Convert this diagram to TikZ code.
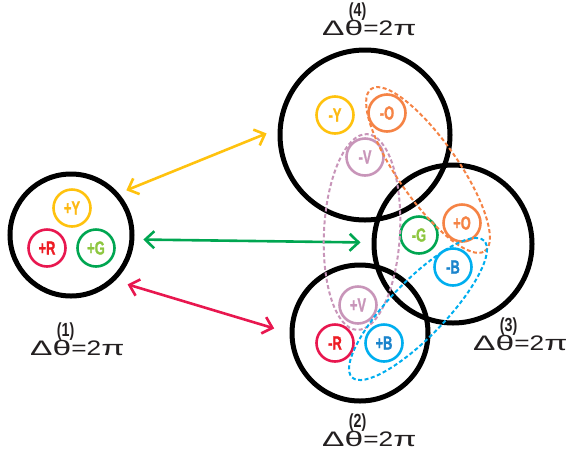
\documentclass[tikz,border=0pt]{standalone}
\usepackage{fontspec}
\setmainfont{Liberation Sans}
\newfontfamily\schwer[FakeBold=1.6]{Liberation Sans Bold}
\usetikzlibrary{arrows.meta}

\definecolor{dunkel}{HTML}{231F20}
\definecolor{gelb}{HTML}{FFC20E}
\definecolor{gelbtxt}{HTML}{FDB913}
\definecolor{rot}{HTML}{E8174F}
\definecolor{rottxt}{HTML}{ED1C24}
\definecolor{gruen}{HTML}{00A651}
\definecolor{gruentxt}{HTML}{8DC63F}
\definecolor{orange}{HTML}{F58345}
\definecolor{vio}{HTML}{C895B9}
\definecolor{blau}{HTML}{00AEEF}
\definecolor{blautxt}{HTML}{1B84CC}

% Delta theta mit hochgestelltem Index
\newcommand{\dth}[1]{\scalebox{1.6}[1]{Δθ}\makebox[0pt][r]{\raisebox{19pt}{\fontsize{19}{19}\selectfont\bfseries\scalebox{0.75}[1]{(#1)}}\hspace{-3pt}}\scalebox{1.25}[1]{=2}\scalebox{1.6}[1]{π}}

\begin{document}
\begin{tikzpicture}[x=1pt, y=-1pt,
	gross/.style={circle, draw=black, line width=5pt, inner sep=0pt},
	klein/.style={circle, line width=2.6pt, minimum size=37pt, inner sep=0pt, font=\fontsize{19}{19}\selectfont\schwer},
	pfeil/.style={{Straight Barb[length=9pt,width=17pt]}-{Straight Barb[length=9pt,width=17pt]}, line width=2.6pt},
	gruppe/.style={dash pattern=on 4pt off 2.5pt, line width=2pt},
	winkel/.style={text=dunkel, font=\fontsize{21}{21}\selectfont, anchor=base west, inner sep=0pt}]
	\useasboundingbox (0,0) rectangle (567,456);
	% grosse Kreise
	\node[gross, minimum size=122pt] (k1) at (71,235) {};
	\node[gross, minimum size=170pt] (k4) at (365,135) {};
	\node[gross, minimum size=158pt] (k3) at (453,244) {};
	\node[gross, minimum size=136pt] (k2) at (360,333) {};
	% kleine Kreise
	\foreach \n/\x/\y/\rc/\tc/\txt in {py/72/208/gelb/gelbtxt/+Y, pr/47/248/rot/rottxt/+R, pg/96/248/gruen/gruentxt/+G,
		my/335/115/gelb/gelbtxt/-Y, mo/387/113/orange/orange/-O, mv/365/157/vio/vio/-V,
		mg/419/235/gruen/gruentxt/-G, po/462/223/orange/orange/+O, mb/453/267/blau/blautxt/-B,
		pv/358/305/vio/vio/+V, mr/335/343/rot/rottxt/-R, pb/384/343/blau/blautxt/+B}
		\node[klein, draw=\rc, text=\tc] (\n) at (\x,\y) {\scalebox{0.68}[1]{\txt}};
	% Pfeile
	\draw[pfeil, gelb, shorten <=8pt, shorten >=12pt] (k1.41) -- (k4.176);
	\draw[pfeil, gruen, shorten <=9pt, shorten >=11pt] (k1.-4) -- (k3.179);
	\draw[pfeil, rot, shorten <=13pt, shorten >=16pt] (k1.-46) -- (k2.180);
	% gestrichelte Gruppen
	\draw[gruppe, vio, rotate around={-3:(362,232)}] (362,232) ellipse (38pt and 98pt);
	\draw[gruppe, orange, rotate around={-55:(428,170)}] (428,170) ellipse (99pt and 30pt);
	\draw[gruppe, blau, rotate around={46:(418,309)}] (418,309) ellipse (95pt and 28pt);
	% Beschriftungen
	\node[winkel] (w1) at (30,355) {\dth{1}};
	\node[winkel] (w4) at (322,35) {\dth{4}};
	\node[winkel] (w3) at (473,350) {\dth{3}};
	\node[winkel] (w2) at (322,446) {\dth{2}};
\end{tikzpicture}
\end{document}
